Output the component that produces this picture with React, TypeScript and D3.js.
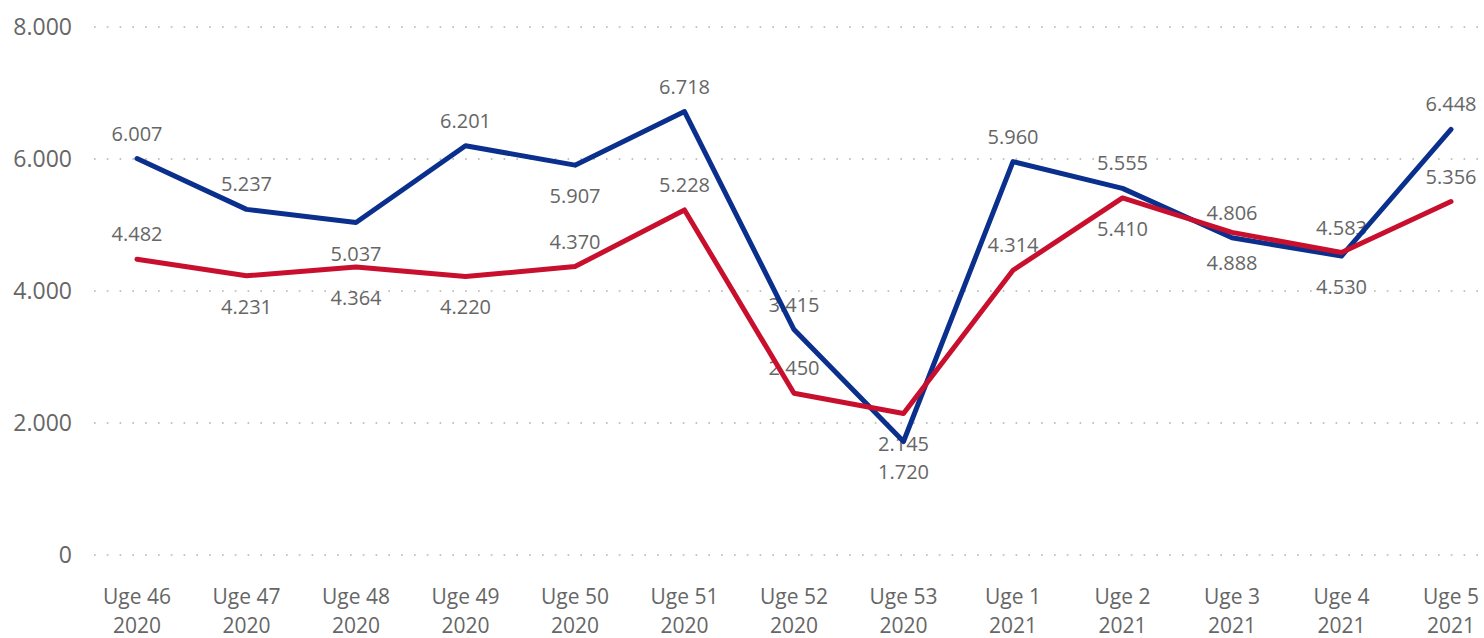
import React from "react";
import * as d3 from "d3";

const weeks = ["Uge 46", "Uge 47", "Uge 48", "Uge 49", "Uge 50", "Uge 51", "Uge 52", "Uge 53", "Uge 1", "Uge 2", "Uge 3", "Uge 4", "Uge 5"];
const years = ["2020", "2020", "2020", "2020", "2020", "2020", "2020", "2020", "2021", "2021", "2021", "2021", "2021"];
const blueValues = [6007, 5237, 5037, 6201, 5907, 6718, 3415, 1720, 5960, 5555, 4806, 4530, 6448];
const redValues = [4482, 4231, 4364, 4220, 4370, 5228, 2450, 2145, 4314, 5410, 4888, 4583, 5356];
const yTicks = [0, 2000, 4000, 6000, 8000];

// label placement: 1 = above, 0 = below
const bluePlace = [1, 1, 0, 1, 0, 1, 1, 0, 1, 1, 1, 0, 1];
const redPlace = [1, 0, 0, 0, 1, 1, 1, 0, 1, 0, 0, 1, 1];

const W = 1484;
const H = 638;
const FONT = "'Open Sans', 'Noto Sans', sans-serif";
const TEXT = "#666666";
const BLUE = "#0a2f8c";
const RED = "#c8102e";

const fmt = (v: number) => d3.format(",")(v).replace(/,/g, ".");

export default function App() {
  const x = d3.scalePoint<number>().domain(d3.range(weeks.length)).range([137, 1451]);
  const y = d3.scaleLinear().domain([0, 8000]).range([555, 27]);
  const line = d3
    .line<number>()
    .x((_, i) => x(i) as number)
    .y((d) => y(d));

  const series = [
    { vals: blueValues, color: BLUE, place: bluePlace },
    { vals: redValues, color: RED, place: redPlace },
  ];

  return (
    <svg
      width={W}
      height={H}
      style={{ position: "absolute", left: 0, top: 0, background: "#fff" }}
      fontFamily={FONT}
    >
      {yTicks.map((t) => (
        <g key={t}>
          <line
            x1={94}
            x2={1480}
            y1={y(t)}
            y2={y(t)}
            stroke="#c4c4c4"
            strokeWidth={2}
            strokeDasharray="1.6 11.2"
            strokeLinecap="butt"
          />
          <text x={72} y={y(t)} dy="0.35em" textAnchor="end" fontSize={23} fill={TEXT}>
            {fmt(t)}
          </text>
        </g>
      ))}
      {weeks.map((w, i) => (
        <g key={w}>
          <text x={x(i)} y={597} dy="0.35em" textAnchor="middle" fontSize={21} fill={TEXT}>
            {w}
          </text>
          <text x={x(i)} y={626} dy="0.35em" textAnchor="middle" fontSize={21} fill={TEXT}>
            {years[i]}
          </text>
        </g>
      ))}
      {series.map((s, si) =>
        s.vals.map((v, i) => (
          <text
            key={`l${si}-${i}`}
            x={x(i)}
            y={y(v) + (s.place[i] ? -25 : 31)}
            dy="0.35em"
            textAnchor="middle"
            fontSize={20}
            fill={TEXT}
          >
            {fmt(v)}
          </text>
        ))
      )}
      {series.map((s, si) => (
        <path
          key={`p${si}`}
          d={line(s.vals) || ""}
          fill="none"
          stroke={s.color}
          strokeWidth={5}
          strokeLinejoin="round"
          strokeLinecap="round"
        />
      ))}
    </svg>
  );
}
